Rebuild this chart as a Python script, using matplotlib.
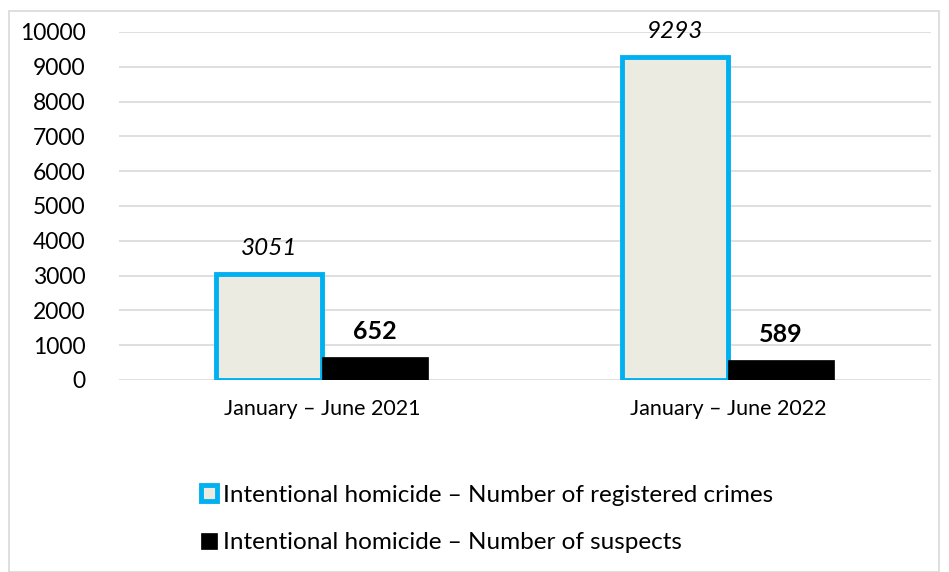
import numpy as np
import matplotlib.pyplot as plt
from matplotlib.patches import Rectangle

plt.rcParams['font.family'] = ['Lato', 'DejaVu Sans']

periods = ['January – June 2021', 'January – June 2022']
crimes = [3051, 9293]
suspects = [652, 589]
series_names = ['Intentional homicide – Number of registered crimes',
                'Intentional homicide – Number of suspects']

fig = plt.figure(figsize=(9.49, 5.72), dpi=100)
fig.patches.append(Rectangle((9/949, 0), 930/949, 1 - 11/572, transform=fig.transFigure,
                             fill=False, edgecolor='#d9d9d9', linewidth=1.2))

ax = fig.add_axes([119/949, 1 - 380/572, 812/949, 348/572])
x = np.arange(len(periods))
w = 0.262

b1 = ax.bar(x - w/2, crimes, w, color='#ecebe1', edgecolor='#00b0f0', linewidth=3.5,
            label=series_names[0], zorder=3)
b2 = ax.bar(x + w/2, suspects, w, color='black', edgecolor='black', linewidth=0.5,
            label=series_names[1], zorder=3)

for xi, v in zip(x - w/2, crimes):
    ax.text(xi, v + 420, str(v), ha='center', va='bottom', fontsize=17.5, style='italic')
for xi, v in zip(x + w/2, suspects):
    ax.text(xi, v + 400, str(v), ha='center', va='bottom', fontsize=18, fontweight='bold')

ax.set_xlim(-0.5, 1.5)
ax.set_ylim(0, 10000)
ax.set_yticks(np.arange(0, 10001, 1000))
ax.set_xticks(x)
ax.set_xticklabels(periods, fontsize=15.5)
ax.tick_params(axis='y', labelsize=16.5, length=0, pad=24)
ax.tick_params(axis='x', length=0, pad=14)
ax.yaxis.grid(True, color='#d9d9d9', linewidth=1.2, zorder=0)
ax.set_axisbelow(True)
for s in ax.spines.values():
    s.set_visible(False)

fig.legend(handles=[b1, b2], loc='center', bbox_to_anchor=(487/949, 1 - 519/572),
           ncol=1, frameon=False, fontsize=17.5, handlelength=0.65, handleheight=0.65,
           handletextpad=0.25, labelspacing=1.1)

fig.savefig('out.png', dpi=100)
